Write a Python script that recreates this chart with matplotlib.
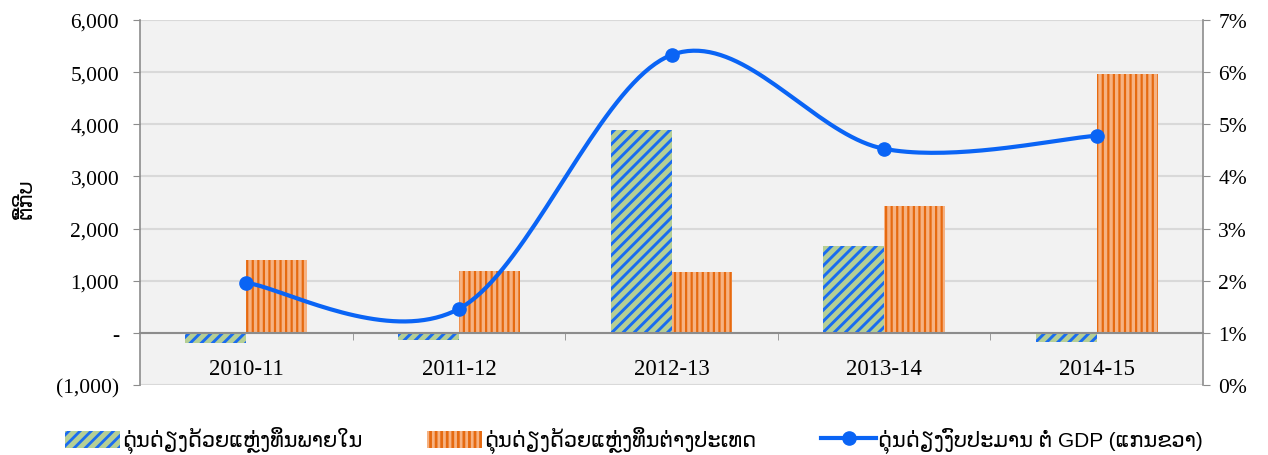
import numpy as np
import matplotlib
matplotlib.use('Agg')
import matplotlib.pyplot as plt
from matplotlib.patches import Patch
from matplotlib.lines import Line2D

years = ['2010-11', '2011-12', '2012-13', '2013-14', '2014-15']
domestic = [-190, -140, 3900, 1670, -170]
foreign = [1400, 1190, 1170, 2440, 4970]
balance_gdp = [1.96, 1.46, 6.33, 4.53, 4.78]

lbl_dom = 'ດຸ່ນດ່ຽງດ້ວຍແຫຼ່ງທຶນພາຍໃນ'
lbl_for = 'ດຸ່ນດ່ຽງດ້ວຍແຫຼ່ງທຶນຕ່າງປະເທດ'
lbl_line = 'ດຸ່ນດ່ຽງງົບປະມານ ຕໍ່ GDP (ແກນຂວາ)'
ylabel = 'ຕື້ກີບ'

lao_font = ['Liberation Sans', 'DejaVu Sans']
serif = 'Liberation Serif'

blue = '#1a6cf0'
green = '#b5cf95'
orange_dark = '#e66a10'
orange_light = '#f6b282'
line_blue = '#0a64f5'

plt.rcParams['hatch.linewidth'] = 2.0


def set_hlw(patches, lw):
    for p in patches:
        if hasattr(p, 'set_hatch_linewidth'):
            p.set_hatch_linewidth(lw)


def smooth(xs, ys, n=40):
    # excel-like smoothed line (catmull-rom as bezier)
    px = [xs[0]] + list(xs) + [xs[-1]]
    py = [ys[0]] + list(ys) + [ys[-1]]
    outx, outy = [], []
    t = np.linspace(0, 1, n)
    for i in range(1, len(px) - 2):
        b0 = np.array([px[i], py[i]])
        b3 = np.array([px[i + 1], py[i + 1]])
        b1 = b0 + (np.array([px[i + 1], py[i + 1]]) - np.array([px[i - 1], py[i - 1]])) / 6
        b2 = b3 - (np.array([px[i + 2], py[i + 2]]) - np.array([px[i], py[i]])) / 6
        pts = ((1 - t) ** 3)[:, None] * b0 + (3 * (1 - t) ** 2 * t)[:, None] * b1 \
            + (3 * (1 - t) * t ** 2)[:, None] * b2 + (t ** 3)[:, None] * b3
        outx.extend(pts[:, 0])
        outy.extend(pts[:, 1])
    return outx, outy


fig = plt.figure(figsize=(12.68, 4.56), dpi=100)
ax = fig.add_axes([140 / 1268, 1 - 386 / 456, (1203 - 140) / 1268, (386 - 21) / 456])
ax.set_facecolor('#f2f2f2')

x = np.arange(len(years))
w = 0.286
b1 = ax.bar(x - w / 2, domestic, w, color=green, edgecolor=blue, hatch='///', linewidth=0, zorder=2)
b2 = ax.bar(x + w / 2, foreign, w, color=orange_light, edgecolor=orange_dark, hatch='|||', linewidth=0, zorder=2)
set_hlw(b1, 2.1)
set_hlw(b2, 1.6)

ax.set_xlim(-0.5, len(years) - 0.5)
ax.set_ylim(-1000, 6000)
ax.set_yticks(range(-1000, 6001, 1000))
ylabels = []
for v in range(-1000, 6001, 1000):
    if v < 0:
        ylabels.append('({:,})'.format(-v))
    elif v == 0:
        ylabels.append('-')
    else:
        ylabels.append('{:,}'.format(v))
ax.set_yticklabels(ylabels, fontfamily=serif, fontsize=15.5)
ax.grid(axis='y', color='#d9d9d9', linewidth=1.5, zorder=0)
ax.set_axisbelow(True)

for s in ['top', 'right']:
    ax.spines[s].set_visible(False)
ax.spines['left'].set_color('#8c8c8c')
ax.spines['left'].set_linewidth(1.2)
ax.spines['bottom'].set_position(('data', 0))
ax.spines['bottom'].set_color('#8c8c8c')
ax.spines['bottom'].set_linewidth(1.5)
ax.spines['bottom'].set_zorder(3)
ax.tick_params(axis='y', direction='out', length=5, color='#8c8c8c', pad=10)

ax.set_xticks(x)
ax.set_xticklabels(years, fontfamily=serif, fontsize=16.5)
ax.set_xticks(np.arange(0.5, len(years) - 1, 1), minor=True)
ax.tick_params(axis='x', which='major', length=0, pad=18)
ax.tick_params(axis='x', which='minor', direction='out', length=5, color='#8c8c8c')

ax.set_ylabel(ylabel, fontfamily=lao_font, fontsize=15)
ax.yaxis.set_label_coords(-0.098, 0.512)

ax2 = ax.twinx()
ax2.set_ylim(0, 7)
ax2.set_yticks(range(0, 8))
ax2.set_yticklabels(['{}%'.format(v) for v in range(0, 8)], fontfamily=serif, fontsize=15.5)
for s in ['top', 'left', 'bottom']:
    ax2.spines[s].set_visible(False)
ax2.spines['right'].set_color('#8c8c8c')
ax2.spines['right'].set_linewidth(1.2)
ax2.tick_params(axis='y', direction='out', length=5, color='#8c8c8c', pad=6)

sx, sy = smooth(x, balance_gdp)
ax2.plot(sx, sy, color=line_blue, linewidth=3, zorder=4, solid_capstyle='round')
ax2.plot(x, balance_gdp, 'o', color=line_blue, markersize=9.5, zorder=5)

hp1 = Patch(facecolor=green, edgecolor=blue, hatch='///', linewidth=0)
hp2 = Patch(facecolor=orange_light, edgecolor=orange_dark, hatch='|||', linewidth=0)
set_hlw([hp1], 2.1)
set_hlw([hp2], 1.6)
handles = [hp1, hp2,
           Line2D([0], [0], color=line_blue, linewidth=3, marker='o', markersize=9.5)]
fig.legend(handles, [lbl_dom, lbl_for, lbl_line], loc='center', bbox_to_anchor=(0.5, 0.033),
           ncol=3, frameon=False, prop={'family': lao_font, 'size': 15},
           handlelength=2.65, handleheight=0.9, handletextpad=0.1, columnspacing=3.1)

fig.savefig('out.png', dpi=100)
